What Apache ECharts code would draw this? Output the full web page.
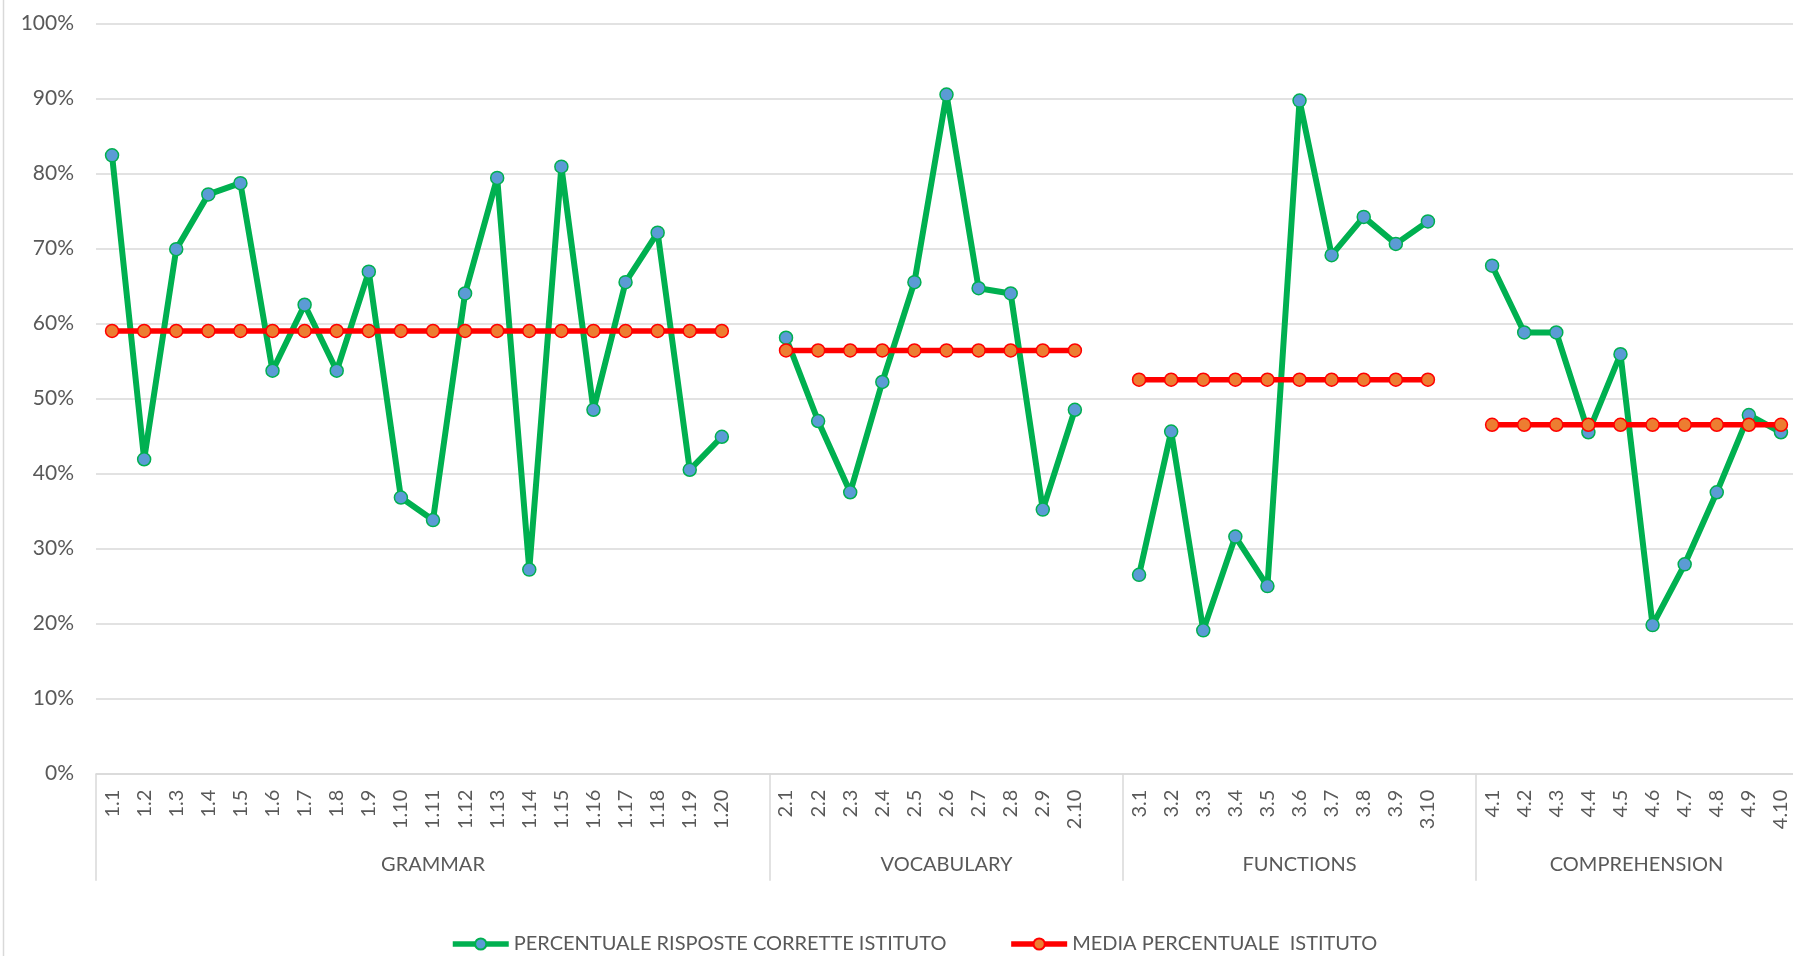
<!DOCTYPE html>
<html lang="it">
<head>
    <meta charset="UTF-8">
    <title>risposte corrette</title>
    <script src="https://cdn.jsdelivr.net/npm/echarts@6/dist/echarts.min.js"></script>
    <style>
        html, body { margin: 0; padding: 0; background: #fff; }
        #chart { width: 1793px; height: 956px; }
    </style>
</head>
<body>
<div id="chart"></div>
<script type="text/javascript">
    // gruppi e voci
    var groups = ['GRAMMAR', 'VOCABULARY', 'FUNCTIONS', 'COMPREHENSION'];
    var grammarItems = ['1.1', '1.2', '1.3', '1.4', '1.5', '1.6', '1.7', '1.8', '1.9', '1.10',
        '1.11', '1.12', '1.13', '1.14', '1.15', '1.16', '1.17', '1.18', '1.19', '1.20'];
    var vocabularyItems = ['2.1', '2.2', '2.3', '2.4', '2.5', '2.6', '2.7', '2.8', '2.9', '2.10'];
    var functionsItems = ['3.1', '3.2', '3.3', '3.4', '3.5', '3.6', '3.7', '3.8', '3.9', '3.10'];
    var comprehensionItems = ['4.1', '4.2', '4.3', '4.4', '4.5', '4.6', '4.7', '4.8', '4.9', '4.10'];

    // percentuale risposte corrette istituto
    var grammarPct = [82.4, 41.9, 69.9, 77.2, 78.7, 53.7, 62.5, 53.7, 66.9, 36.8,
        33.8, 64.0, 79.4, 27.2, 80.9, 48.5, 65.5, 72.1, 40.5, 44.9];
    var vocabularyPct = [58.1, 47.0, 37.5, 52.2, 65.5, 90.5, 64.7, 64.0, 35.2, 48.5];
    var functionsPct = [26.5, 45.6, 19.1, 31.6, 25.0, 89.7, 69.1, 74.2, 70.6, 73.6];
    var comprehensionPct = [67.7, 58.8, 58.8, 45.5, 55.9, 19.8, 27.9, 37.5, 47.8, 45.5];

    // media percentuale istituto per gruppo
    var groupMeans = [59.0, 56.4, 52.5, 46.5];

    var yTicks = [0, 10, 20, 30, 40, 50, 60, 70, 80, 90, 100];

    var itemLists = [grammarItems, vocabularyItems, functionsItems, comprehensionItems];
    var pctLists = [grammarPct, vocabularyPct, functionsPct, comprehensionPct];

    // asse a categorie con una colonna vuota tra un gruppo e l'altro
    var categories = [], greenData = [], redData = [];
    var groupStart = [], groupCenter = [];
    for (var g = 0; g < groups.length; g++) {
        var start = categories.length;
        groupStart.push(start);
        for (var i = 0; i < itemLists[g].length; i++) {
            categories.push(itemLists[g][i]);
            greenData.push(pctLists[g][i]);
            redData.push(groupMeans[g]);
        }
        if (g < groups.length - 1) {
            categories.push('');
            greenData.push(null);
            redData.push(null);
        }
        groupCenter.push((start + categories.length) / 2);
    }
    groupStart.push(categories.length);

    var txt = '#595959';
    var grid = '#d9d9d9';
    var font = 'Lato';
    var greenName = 'PERCENTUALE RISPOSTE CORRETTE ISTITUTO';
    var redName = 'MEDIA PERCENTUALE  ISTITUTO';

    var chart = echarts.init(document.getElementById('chart'));
    chart.setOption({
        animation: false,
        textStyle: { fontFamily: font },
        grid: { left: 96, right: -4, top: 23.3, bottom: 182.3, containLabel: false, outerBoundsMode: 'none' },
        graphic: [{
            type: 'line',
            shape: { x1: 3.5, y1: 0, x2: 3.5, y2: 956 },
            style: { stroke: grid, lineWidth: 1.5 }
        }],
        legend: {
            left: 450,
            top: 934,
            padding: 0,
            itemWidth: 56,
            itemHeight: 14,
            itemGap: 62,
            textStyle: { color: txt, fontSize: 20, fontFamily: font },
            data: [{
                name: greenName,
                lineStyle: { color: '#00b050', width: 5.5 }
            }, {
                name: redName,
                lineStyle: { color: '#ff0000', width: 5.5 }
            }]
        },
        xAxis: [{
            type: 'category',
            data: categories,
            boundaryGap: true,
            axisLine: { lineStyle: { color: grid, width: 1.5 } },
            axisTick: { show: false },
            axisLabel: {
                interval: 0,
                rotate: 90,
                margin: 16,
                color: txt,
                fontSize: 20,
                fontFamily: font
            }
        }, {
            type: 'value',
            position: 'bottom',
            min: 0,
            max: categories.length,
            splitLine: { show: false },
            axisLine: { show: false },
            axisTick: {
                show: true,
                customValues: groupStart,
                length: 107,
                lineStyle: { color: grid, width: 1.5 }
            },
            axisLabel: {
                customValues: groupCenter,
                margin: 81,
                color: txt,
                fontSize: 20,
                fontFamily: font,
                formatter: function (v) {
                    var k = groupCenter.indexOf(v);
                    return k >= 0 ? groups[k] : '';
                }
            }
        }],
        yAxis: {
            type: 'value',
            min: yTicks[0],
            max: yTicks[yTicks.length - 1],
            interval: 10,
            axisLine: { show: false },
            axisTick: { show: false },
            splitLine: { lineStyle: { color: grid, width: 1.5 } },
            axisLabel: {
                margin: 22,
                color: txt,
                fontSize: 21,
                fontFamily: font,
                formatter: '{value}%'
            }
        },
        series: [{
            name: greenName,
            type: 'line',
            data: greenData,
            symbol: 'circle',
            symbolSize: 13,
            lineStyle: { color: '#00b050', width: 6 },
            itemStyle: { color: '#5b9bd5', borderColor: '#00b050', borderWidth: 1.5 }
        }, {
            name: redName,
            type: 'line',
            data: redData,
            symbol: 'circle',
            symbolSize: 13,
            lineStyle: { color: '#ff0000', width: 5.5 },
            itemStyle: { color: '#ed7d31', borderColor: '#ff0000', borderWidth: 1.5 }
        }]
    });
</script>
</body>
</html>
